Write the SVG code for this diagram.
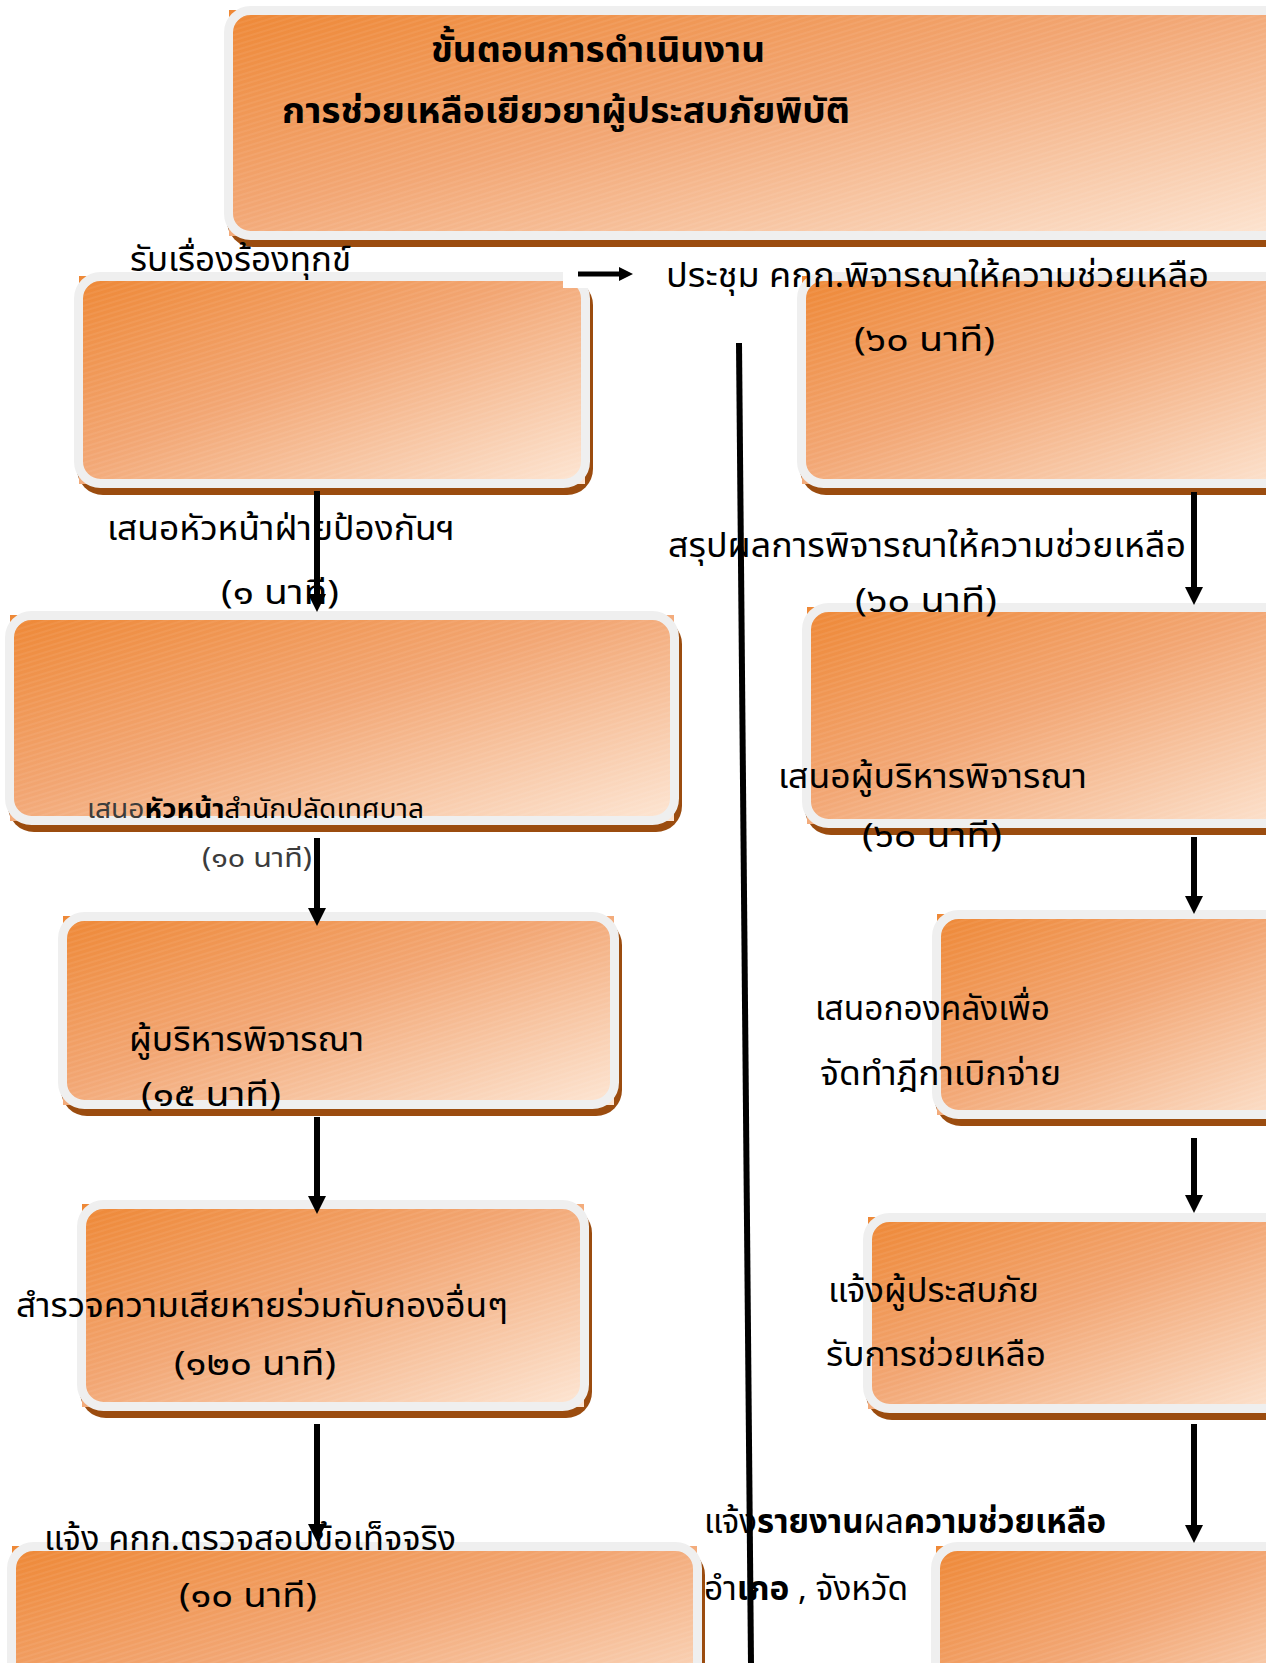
<svg xmlns="http://www.w3.org/2000/svg" width="1266" height="1663" viewBox="0 0 1266 1663">
<defs>
<linearGradient id="og" x1="0" y1="0" x2="1" y2="1">
<stop offset="0" stop-color="#ee8836"/>
<stop offset="0.45" stop-color="#f2a673"/>
<stop offset="1" stop-color="#fde6d4"/>
</linearGradient>
<pattern id="streak" width="50" height="5" patternUnits="userSpaceOnUse" patternTransform="rotate(-17)">
<line x1="0" y1="2" x2="50" y2="2" stroke="#ffffff" stroke-width="0.8" stroke-opacity="0.16"/>
</pattern>
<marker id="ah" viewBox="0 0 18 18" refX="1" refY="9" markerWidth="18" markerHeight="18" markerUnits="userSpaceOnUse" orient="auto">
<path d="M0,0 L18,9 L0,18 z" fill="#000"/>
</marker>
<marker id="ahs" viewBox="0 0 14 14" refX="1" refY="7" markerWidth="14" markerHeight="14" markerUnits="userSpaceOnUse" orient="auto">
<path d="M0,0 L14,7 L0,14 z" fill="#000"/>
</marker>
</defs>
<style>
.sh{fill:#9b4c0f}
.sq{fill:url(#og)}
.bx{fill:url(#og);stroke:#efefef;stroke-width:9}
.st{fill:url(#streak)}
text{font-family:'Noto Sans Thai','Noto Sans',sans-serif;fill:#000;font-size:33px}
.t{font-weight:bold;font-size:36px}
.b{font-weight:bold}
.sm{font-size:27px}
.gr{fill:#3c3c3c}
.cn{stroke:#000;stroke-width:6;fill:none;marker-end:url(#ah)}
</style>
<rect width="1266" height="1663" fill="#ffffff"/>

<g id="node-title">
<rect class="sh" x="227" y="13" width="1090" height="234" rx="26"/>
<rect class="sq" x="229" y="10" width="1080" height="226"/>
<rect class="bx" x="228.5" y="10.5" width="1080" height="225" rx="22"/>
<rect class="st" x="233" y="15" width="1071" height="216" rx="18"/>
<text class="t" x="431" y="62" textLength="334" lengthAdjust="spacingAndGlyphs">ขั้นตอนการดำเนินงาน</text>
<text class="t" x="282" y="123" textLength="568" lengthAdjust="spacingAndGlyphs">การช่วยเหลือเยียวยาผู้ประสบภัยพิบัติ</text>
</g>

<g id="node-1">
<rect class="sh" x="77" y="279" width="516" height="216" rx="26"/>
<rect class="sq" x="79" y="276" width="506" height="208"/>
<rect class="bx" x="78.5" y="276.5" width="507" height="207" rx="22"/>
<rect class="st" x="83" y="281" width="498" height="198" rx="18"/>
<rect x="563" y="256" width="50" height="32" fill="#ffffff"/>
<text x="130" y="271" textLength="221" lengthAdjust="spacingAndGlyphs">รับเรื่องร้องทุกข์</text>
</g>

<g id="node-2">
<rect class="sh" x="8" y="618" width="674" height="214" rx="26"/>
<rect class="sq" x="10" y="615" width="664" height="206"/>
<rect class="bx" x="9.5" y="615.5" width="665" height="205" rx="22"/>
<rect class="st" x="14" y="620" width="656" height="196" rx="18"/>
<text x="107" y="540" textLength="348" lengthAdjust="spacingAndGlyphs">เสนอหัวหน้าฝ่ายป้องกันฯ</text>
<text x="221" y="604" textLength="118" lengthAdjust="spacingAndGlyphs">(๑ นาที)</text>
</g>

<g id="node-3">
<rect class="sh" x="61" y="919" width="561" height="197" rx="26"/>
<rect class="sq" x="63" y="916" width="551" height="189"/>
<rect class="bx" x="62.5" y="916.5" width="552" height="188" rx="22"/>
<rect class="st" x="67" y="921" width="543" height="179" rx="18"/>
<text class="sm" x="87" y="818" textLength="337" lengthAdjust="spacingAndGlyphs"><tspan class="gr">เสนอ</tspan><tspan class="b">หัวหน้า</tspan>สำนักปลัดเทศบาล</text>
<text class="sm gr" x="202" y="867" textLength="110" lengthAdjust="spacingAndGlyphs">(๑๐ นาที)</text>
<text x="129" y="1051" textLength="235" lengthAdjust="spacingAndGlyphs">ผู้บริหารพิจารณา</text>
<text x="141" y="1106" textLength="140" lengthAdjust="spacingAndGlyphs">(๑๕ นาที)</text>
</g>

<g id="node-4">
<rect class="sh" x="80" y="1207" width="512" height="211" rx="26"/>
<rect class="sq" x="82" y="1204" width="502" height="203"/>
<rect class="bx" x="81.5" y="1204.5" width="503" height="202" rx="22"/>
<rect class="st" x="86" y="1209" width="494" height="193" rx="18"/>
<text x="16" y="1317" textLength="492" lengthAdjust="spacingAndGlyphs">สำรวจความเสียหายร่วมกับกองอื่นๆ</text>
<text x="174" y="1375" textLength="162" lengthAdjust="spacingAndGlyphs">(๑๒๐ นาที)</text>
</g>

<g id="node-5">
<rect class="sh" x="10" y="1549" width="695" height="200" rx="26"/>
<rect class="sq" x="12" y="1546" width="685" height="192"/>
<rect class="bx" x="11.5" y="1546.5" width="686" height="191" rx="22"/>
<rect class="st" x="16" y="1551" width="677" height="182" rx="18"/>
<text x="44" y="1550" textLength="412" lengthAdjust="spacingAndGlyphs">แจ้ง คกก.ตรวจสอบข้อเท็จจริง</text>
<text x="179" y="1607" textLength="138" lengthAdjust="spacingAndGlyphs">(๑๐ นาที)</text>
</g>

<g id="node-6">
<rect class="sh" x="800" y="279" width="520" height="216" rx="26"/>
<rect class="sq" x="802" y="276" width="510" height="208"/>
<rect class="bx" x="801.5" y="276.5" width="511" height="207" rx="22"/>
<rect class="st" x="806" y="281" width="502" height="198" rx="18"/>
<text x="666" y="287" textLength="543" lengthAdjust="spacingAndGlyphs">ประชุม คกก.พิจารณาให้ความช่วยเหลือ</text>
<text x="854" y="351" textLength="141" lengthAdjust="spacingAndGlyphs">(๖๐ นาที)</text>
</g>

<g id="node-7">
<rect class="sh" x="805" y="610" width="520" height="225" rx="26"/>
<rect class="sq" x="807" y="607" width="510" height="217"/>
<rect class="bx" x="806.5" y="607.5" width="511" height="216" rx="22"/>
<rect class="st" x="811" y="612" width="502" height="207" rx="18"/>
<text x="668" y="557" textLength="518" lengthAdjust="spacingAndGlyphs">สรุปผลการพิจารณาให้ความช่วยเหลือ</text>
<text x="855" y="612" textLength="142" lengthAdjust="spacingAndGlyphs">(๖๐ นาที)</text>
<text x="778" y="788" textLength="309" lengthAdjust="spacingAndGlyphs">เสนอผู้บริหารพิจารณา</text>
<text x="862" y="847" textLength="140" lengthAdjust="spacingAndGlyphs">(๖๐ นาที)</text>
</g>

<g id="node-8">
<rect class="sh" x="935" y="917" width="400" height="209" rx="26"/>
<rect class="sq" x="937" y="914" width="390" height="201"/>
<rect class="bx" x="936.5" y="914.5" width="391" height="200" rx="22"/>
<rect class="st" x="941" y="919" width="382" height="191" rx="18"/>
<text x="815" y="1020" textLength="235" lengthAdjust="spacingAndGlyphs">เสนอกองคลังเพื่อ</text>
<text x="820" y="1085" textLength="241" lengthAdjust="spacingAndGlyphs">จัดทำฎีกาเบิกจ่าย</text>
</g>

<g id="node-9">
<rect class="sh" x="866" y="1220" width="450" height="200" rx="26"/>
<rect class="sq" x="868" y="1217" width="440" height="192"/>
<rect class="bx" x="867.5" y="1217.5" width="441" height="191" rx="22"/>
<rect class="st" x="872" y="1222" width="432" height="182" rx="18"/>
<text x="828" y="1302" textLength="211" lengthAdjust="spacingAndGlyphs">แจ้งผู้ประสบภัย</text>
<text x="826" y="1366" textLength="220" lengthAdjust="spacingAndGlyphs">รับการช่วยเหลือ</text>
</g>

<g id="node-10">
<rect class="sh" x="934" y="1549" width="400" height="200" rx="26"/>
<rect class="sq" x="936" y="1546" width="390" height="192"/>
<rect class="bx" x="935.5" y="1546.5" width="391" height="191" rx="22"/>
<rect class="st" x="940" y="1551" width="382" height="182" rx="18"/>
<text x="704" y="1533" textLength="402" lengthAdjust="spacingAndGlyphs">แจ้ง<tspan class="b">รายงาน</tspan>ผล<tspan class="b">ความช่วยเหลือ</tspan></text>
<text x="704" y="1600" textLength="204" lengthAdjust="spacingAndGlyphs">อำ<tspan class="b">เภอ</tspan> , จังหวัด</text>
</g>

<g id="connectors">
<line class="cn" x1="317" y1="491" x2="317" y2="595"/>
<line class="cn" x1="317" y1="838" x2="317" y2="909"/>
<line class="cn" x1="317" y1="1117" x2="317" y2="1197"/>
<line class="cn" x1="317" y1="1424" x2="317" y2="1525"/>
<line class="cn" x1="1194" y1="492" x2="1194" y2="588"/>
<line class="cn" x1="1194" y1="837" x2="1194" y2="897"/>
<line class="cn" x1="1194" y1="1138" x2="1194" y2="1196"/>
<line class="cn" x1="1194" y1="1424" x2="1194" y2="1526"/>
<line x1="578" y1="274" x2="620" y2="274" stroke="#000" stroke-width="5" marker-end="url(#ahs)"/>
<line x1="739" y1="343" x2="751" y2="1663" stroke="#000" stroke-width="6"/>
</g>
</svg>
